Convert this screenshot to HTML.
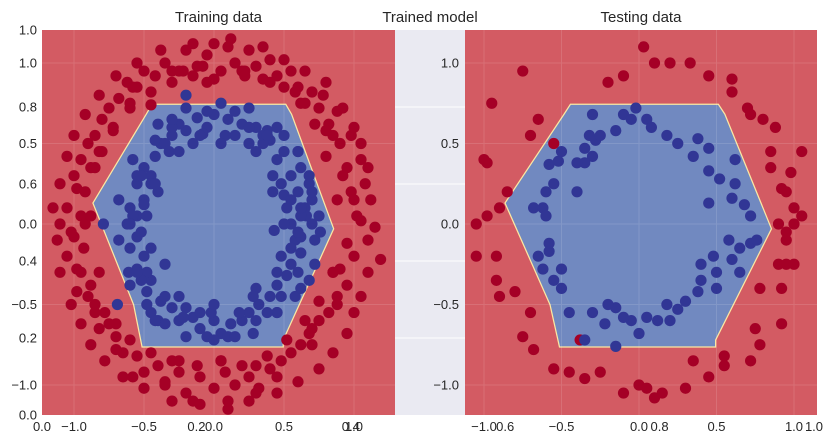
<!DOCTYPE html>
<html><head><meta charset="utf-8"><style>
body{margin:0;background:#fff;}
svg{display:block;font-family:"Liberation Sans",sans-serif;}
</style></head><body>
<svg id="chart" width="836" height="444">
</svg>
<script>
// Background "Trained model" axes tick labels
const bgTicks = ["0.0","0.2","0.4","0.6","0.8","1.0"];
// Decision boundary hexagon (data coords)
const boundaryX = [-0.44,0.51,0.55,0.85,0.49,0.49,-0.51,-0.57,-0.86,-0.48];
const boundaryY = [0.74,0.74,0.68,-0.03,-0.72,-0.76,-0.76,-0.5,0.13,0.68];
const axisTicks = [-1.0,-0.5,0.0,0.5,1.0];
// Training data
const trainRedX = [1.02,1.1,0.98,1.08,0.95,1.05,0.9,0.98,0.82,0.88,0.75,0.7,0.78,0.6,0.55,0.45,0.4,0.3,0.25,0.15,0.1,0.05,-0.05,-0.12,-0.2,-0.25,-0.35,-0.42,-0.5,-0.55,-0.62,-0.68,-0.75,-0.8,-0.85,-0.9,-0.95,-0.88,-1.0,-0.92,-1.05,-0.95,-1.1,-1.0,-0.93,-1.05,-0.95,-0.88,-0.98,-0.85,-0.78,-0.82,-0.7,-0.65,-0.55,-0.5,-0.4,-0.35,-0.25,-0.2,-0.1,0.0,0.08,0.15,0.25,0.32,0.4,0.48,0.55,0.62,0.68,0.75,0.82,0.88,0.95,0.9,1.0,0.95,1.19,-0.45,
 0.92,1.0,0.85,0.65,0.5,0.35,0.2,0.0,-0.15,-0.3,-0.45,-0.6,-0.72,-0.8,-0.98,-1.02,-0.98,-0.9,-0.75,-0.6,-0.45,-0.3,-0.12,0.05,0.2,0.38,0.52,0.65,0.75,0.85,0.8,0.72,0.62,0.4,0.22,-0.08,-0.3,-0.58,-0.72,-0.85,-0.92,-0.85,-0.7,-0.58,-0.35,-0.15,0.1,0.3,0.45,0.7,0.88,1.05,
 0.0,0.12,-0.15,0.35,-0.38,0.5,-0.55,0.65,-0.7,0.8,-0.82,0.92,-0.92,1.0,-1.0,1.05,-1.05,1.1,-1.1,1.12,-1.15,1.15,-1.12,1.1,-1.1,1.05,-1.02,1.0,-0.95,0.95,-0.88,0.85,-0.78,0.75,-0.65,0.6,-0.5,0.45,-0.3,0.25,-0.1,0.1,-0.22,0.22,0.58,-0.6,0.8,-0.82,0.88,-0.88,0.85,-0.82,0.7,-0.7,0.3,-0.25,0.05,-0.05];
const trainRedY = [0.05,-0.1,0.2,0.25,0.35,0.4,0.5,0.55,0.62,0.7,0.72,0.82,0.8,0.85,0.95,0.92,1.02,0.98,1.08,1.0,1.1,0.95,1.05,0.98,1.08,0.95,1.0,0.92,0.95,0.85,0.88,0.78,0.72,0.65,0.55,0.5,0.4,0.35,0.3,0.2,0.1,0.05,0.0,-0.08,-0.15,-0.2,-0.3,-0.38,-0.42,-0.5,-0.55,-0.65,-0.7,-0.8,-0.82,-0.92,-0.88,-0.98,-0.92,-1.05,-0.95,-1.02,-0.92,-1.0,-0.95,-1.02,-0.9,-0.85,-0.8,-0.75,-0.68,-0.6,-0.55,-0.45,-0.38,-0.28,-0.2,-0.12,-0.22,0.74,
 0.3,0.15,0.55,0.75,0.85,0.9,0.95,0.9,0.92,0.88,0.82,0.72,0.6,0.45,0.22,-0.05,-0.28,-0.45,-0.62,-0.72,-0.8,-0.85,-0.88,-0.85,-0.88,-0.82,-0.72,-0.6,-0.48,-0.3,0.42,0.62,0.75,0.88,0.95,0.98,0.95,0.85,0.58,0.35,0.0,-0.55,-0.78,-0.95,-1.0,-1.1,-1.1,-1.05,-0.95,-0.75,-0.5,0.02,
 1.12,1.15,1.12,1.1,1.08,1.02,1.0,0.95,0.92,0.88,0.8,0.72,0.68,0.6,0.55,0.5,0.42,0.35,0.25,0.15,0.1,-0.02,-0.1,-0.3,-0.3,-0.45,-0.5,-0.55,-0.62,-0.68,-0.75,-0.8,-0.85,-0.9,-0.95,-0.98,-1.02,-1.05,-1.1,-1.1,-1.12,-1.15,0.95,0.92,0.82,0.75,0.58,0.45,0.15,0.05,-0.3,-0.3,-0.65,-0.62,-0.88,-0.85,-0.85,0.88];
const trainBlueX = [0.7,0.65,0.72,0.6,0.68,0.55,0.62,0.5,0.45,0.4,0.35,0.3,0.2,0.15,0.1,0.0,-0.05,-0.12,-0.2,-0.25,-0.3,-0.38,-0.42,-0.5,-0.45,-0.55,-0.5,-0.6,-0.55,-0.62,-0.55,-0.6,-0.5,-0.55,-0.45,-0.48,-0.38,-0.3,-0.25,-0.15,-0.1,0.0,0.05,0.12,0.2,0.25,0.32,0.4,0.45,0.52,0.55,0.62,0.58,0.66,0.52,0.48,0.42,-0.4,-0.35,0.3,-0.2,0.43,-0.69,-0.61,-0.79,
 0.6,0.5,0.38,0.25,0.08,-0.08,-0.32,-0.45,-0.52,-0.48,-0.5,-0.45,-0.4,-0.2,-0.05,0.1,0.3,0.45,0.58,0.62,0.55,0.42,0.35,-0.15,-0.3,-0.42,-0.58,-0.52,0.48,0.62,0.5,0.18,-0.02,-0.22,-0.35,-0.48,-0.55,0.6,0.7,0.25,
 0.75,0.76,0.7,0.72,0.6,0.62,0.45,0.45,0.25,0.28,0.05,0.0,-0.2,-0.2,-0.4,-0.42,-0.58,-0.6,-0.68,-0.68,0.5,0.48,0.45,0.3,0.28,0.05,0.0,-0.25,-0.25,-0.42,-0.45,-0.48,0.62,0.6,0.55,0.55,0.38,0.38,-0.1,-0.1,-0.35,-0.35,-0.52,-0.55,-0.6,0.15,0.15,-0.05,-0.3,0.68,0.68];
const trainBlueY = [0.0,0.1,-0.1,0.2,0.25,0.3,0.35,0.45,0.4,0.52,0.5,0.6,0.62,0.55,0.65,0.68,0.6,0.66,0.58,0.62,0.55,0.5,0.42,0.35,0.3,0.25,0.15,0.1,0.05,0.0,-0.08,-0.15,-0.2,-0.28,-0.35,-0.42,-0.48,-0.52,-0.6,-0.58,-0.65,-0.6,-0.68,-0.62,-0.6,-0.55,-0.5,-0.45,-0.38,-0.32,-0.25,-0.18,-0.1,0.05,0.1,-0.2,0.2,0.2,-0.25,-0.4,0.8,-0.04,-0.5,-0.3,0.0,
 0.45,0.55,0.58,0.5,0.55,0.56,0.45,0.25,-0.05,-0.3,0.12,-0.55,-0.6,-0.52,-0.7,-0.7,-0.6,-0.55,-0.45,0.05,0.0,0.3,0.55,0.5,0.6,0.52,0.05,-0.35,-0.45,-0.08,0.18,-0.55,-0.55,-0.58,-0.62,-0.5,0.3,-0.3,0.15,0.6,
 0.05,-0.05,0.2,-0.25,0.45,-0.4,0.6,-0.55,0.72,-0.68,0.75,-0.72,0.72,-0.7,0.62,-0.6,0.4,-0.38,0.15,-0.1,0.0,0.25,-0.3,0.45,-0.45,0.5,-0.5,0.45,-0.45,0.25,-0.15,0.05,0.1,-0.05,0.15,-0.15,0.55,-0.55,0.55,-0.55,0.5,-0.45,0.3,-0.3,0.0,0.7,-0.7,0.7,0.65,0.3,-0.35];
// Testing data
const testRedX = [0.03,-0.75,0.1,0.2,0.33,0.45,0.6,0.6,0.7,0.72,0.8,0.88,-0.2,-0.1,-0.95,-0.65,-0.7,-0.55,-1.0,-0.98,-0.85,-0.9,-0.98,-1.05,-1.05,-0.92,-0.92,-0.9,-0.8,-0.7,-0.75,-0.68,-0.55,-0.45,-0.35,-0.25,-0.1,0.0,0.05,0.1,0.15,0.3,0.35,0.45,0.55,0.55,0.72,0.75,0.78,0.78,0.92,0.92,0.9,0.95,1.0,0.95,0.95,0.9,1.0,1.05,1.0,0.95,0.98,0.92,1.05,0.85,0.85,-0.38];
const testRedY = [1.1,0.95,1.0,1.0,1.0,0.92,0.9,0.82,0.72,0.68,0.65,0.6,0.88,0.92,0.75,0.65,0.55,0.5,0.4,0.38,0.2,0.1,0.05,0.0,-0.2,-0.2,-0.35,-0.45,-0.42,-0.55,-0.7,-0.78,-0.9,-0.92,-0.96,-0.92,-1.05,-1.0,-1.02,-1.08,-1.05,-1.02,-0.85,-0.95,-0.82,-0.88,-0.85,-0.65,-0.75,-0.4,-0.4,-0.62,-0.25,-0.25,-0.25,-0.1,-0.05,0.0,0.0,0.05,0.1,0.2,0.32,0.22,0.45,0.35,0.45,-0.72];
const testBlueX = [-0.02,-0.3,-0.1,-0.05,0.05,0.08,0.18,0.25,0.38,0.45,0.35,0.45,0.52,0.62,0.6,0.68,0.72,0.65,0.72,0.76,0.58,0.48,0.6,0.65,0.4,0.5,0.4,0.38,0.5,0.3,0.25,0.18,0.12,0.05,0.2,-0.05,-0.1,-0.15,-0.2,-0.22,-0.3,-0.35,-0.15,0.0,-0.45,-0.5,-0.55,-0.5,-0.62,-0.58,-0.65,-0.58,-0.68,-0.62,-0.6,-0.6,-0.55,-0.58,-0.52,-0.5,-0.35,-0.3,-0.32,-0.28,-0.35,-0.4,-0.25,-0.15,-0.4,0.62,0.45];
const testBlueY = [0.72,0.68,0.68,0.65,0.65,0.6,0.55,0.5,0.53,0.47,0.42,0.33,0.28,0.25,0.16,0.12,0.05,-0.15,-0.12,-0.1,-0.1,-0.2,-0.22,-0.3,-0.25,-0.3,-0.35,-0.42,-0.4,-0.48,-0.53,-0.5,-0.6,-0.58,-0.6,-0.6,-0.58,-0.52,-0.5,-0.62,-0.55,-0.72,-0.76,-0.68,-0.55,-0.4,-0.35,-0.28,-0.28,-0.17,-0.2,-0.12,0.1,0.1,0.05,0.2,0.25,0.37,0.39,0.45,0.47,0.42,0.55,0.52,0.38,0.38,0.55,0.58,0.2,0.4,0.13];

const NS="http://www.w3.org/2000/svg";
const svg=document.getElementById('chart');
function mk(tag,attrs,parent){const e=document.createElementNS(NS,tag);for(const k in attrs)e.setAttribute(k,attrs[k]);(parent||svg).appendChild(e);return e;}
function txt(x,y,s,anchor,size,parent){const t=mk('text',{x:x,y:y,'text-anchor':anchor,'font-size':size,fill:'#262626'},parent);t.textContent=s;return t;}

const bg=mk('g',{});


mk('rect',{x:42,y:30,width:772,height:385,fill:'#eaeaf2'},bg);
bgTicks.forEach((t,i)=>{
  const v=parseFloat(t);
  const y=415-v*385, x=42+v*772;
  if(i>0&&i<5){mk('line',{x1:42,x2:814,y1:y,y2:y,stroke:'#fff','stroke-width':1},bg);}
  const ly=txt(37,y+4.5,t,'end',13,bg);
  
  
  const lx=txt(x,431,t,'middle',13,bg);
  
  
});
const tt=txt(430,22,'Trained model','middle',15,bg);



function panel(name,title,L,R,x0,ppx,y0,ppy,rx,ry,bx,by,ylabX){
  const g=mk('g',{});
  
  
  const sx=v=>x0+v*ppx, sy=v=>y0-v*ppy;
  const clipId=name+'-clip';
  const cp=mk('clipPath',{id:clipId},g);
  mk('rect',{x:L,y:30,width:R-L,height:385},cp);
  mk('rect',{x:L,y:30,width:R-L,height:385,fill:'#d35b63'},g);
  const pts=boundaryX.map((v,i)=>sx(v).toFixed(1)+','+sy(boundaryY[i]).toFixed(1)).join(' ');
  mk('polygon',{points:pts,fill:'#fde9a0',stroke:'#fbe8a3','stroke-width':2.5},g);
  const poly=mk('polygon',{points:pts,fill:'#7189c0'},g);
  
  
  const grid=mk('g',{opacity:0.12},g);
  axisTicks.forEach(t=>{
    mk('line',{x1:sx(t),x2:sx(t),y1:30,y2:415,stroke:'#fff'},grid);
    mk('line',{x1:L,x2:R,y1:sy(t),y2:sy(t),stroke:'#fff'},grid);
  });
  const pg=mk('g',{'clip-path':'url(#'+clipId+')'},g);
  rx.forEach((v,i)=>{const c=mk('circle',{cx:sx(v),cy:sy(ry[i]),r:5.6,fill:'#a50026'},pg);
    
    });
  bx.forEach((v,i)=>{const c=mk('circle',{cx:sx(v),cy:sy(by[i]),r:5.6,fill:'#313695'},pg);
    
    });
  axisTicks.forEach(t=>{
    const a=txt(sx(t),431,t.toFixed(1).replace('-','\u2212'),'middle',13,g);
    
    
    const b=txt(ylabX,sy(t)+4.5,t.toFixed(1).replace('-','\u2212'),'end',13,g);
    
    
  });
  const ti=txt((L+R)/2,22,title,'middle',15,g);
  
  
}
panel('training-data-axes','Training data',42,395,214,140,224,161,trainRedX,trainRedY,trainBlueX,trainBlueY,37);
panel('testing-data-axes','Testing data',465,817,639,155,224,161,testRedX,testRedY,testBlueX,testBlueY,459);
</script>
</body></html>
